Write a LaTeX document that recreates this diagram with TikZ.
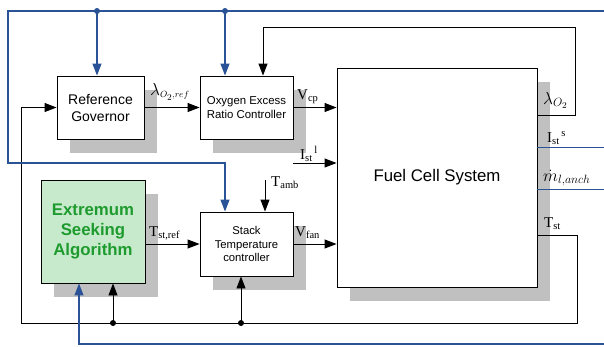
\documentclass[tikz,border=0pt]{standalone}
\usepackage{fontspec}
\setmainfont{Liberation Serif}
\newfontfamily\arialf{Liberation Sans}
\usetikzlibrary{arrows.meta,shadows}
\definecolor{wireblue}{RGB}{42,82,150}
\definecolor{shadowgray}{RGB}{192,192,192}
\definecolor{esafill}{RGB}{200,234,204}
\definecolor{esatext}{RGB}{30,155,46}
\begin{document}
\begin{tikzpicture}[x=1pt,y=-1pt,
  blk/.style={draw=black,line width=0.9pt,fill=white,inner sep=0pt,align=center,
    drop shadow={shadow xshift=13pt,shadow yshift=-13.5pt,fill=shadowgray,opacity=1}},
  wire/.style={draw=black,line width=0.9pt},
  bwire/.style={draw=wireblue,line width=1.1pt},
  tblue/.style={draw=wireblue,line width=0.7pt},
  arr/.style={-{Triangle[length=12pt,width=9pt]}},
  dot/.style={circle,fill,inner sep=0pt,minimum size=6pt},
  lbl/.style={anchor=base west,inner sep=0pt,font=\fontsize{15}{15}\selectfont}]
\useasboundingbox (0,0) rectangle (604,346);

% blocks
\node[blk,minimum width=87pt,minimum height=63pt,font=\arialf\fontsize{14}{17}\selectfont] (rg) at (100.5,107.5) {Reference\\Governor};
\node[blk,minimum width=93pt,minimum height=63pt,font=\arialf\fontsize{11.4}{13.4}\selectfont] (oxy) at (246.5,107.5) {Oxygen Excess\\Ratio Controller};
\node[blk,minimum width=93pt,minimum height=64pt,font=\arialf\fontsize{11.3}{13.3}\selectfont] (stc) at (246.5,244) {Stack\\Temperature\\controller};
\node[blk,fill=esafill,text=esatext,minimum width=104pt,minimum height=103pt,font=\arialf\bfseries\fontsize{16.8}{20}\selectfont] (esa) at (93,231.5) {Extremum\\Seeking\\Algorithm};
\node[blk,minimum width=200pt,minimum height=219pt] (fcs) at (437,177.5) {};
\node[font=\arialf\fontsize{16.8}{20}\selectfont,inner sep=0pt] (fcst) at (437,177) {Fuel Cell System};

% coordinates
\coordinate (lo2) at (537,115);
\coordinate (fb1) at (575,115);
\coordinate (fb2) at (575,27);
\coordinate (fb3) at (263,27);
\coordinate (ist) at (293,163);
\coordinate (tamb) at (265,180);
\coordinate (tst) at (537,235);
\coordinate (bb1) at (577,235);
\coordinate (bb2) at (577,323);
\coordinate (bb3) at (21,323);
\coordinate (bb4) at (21,107.5);
\coordinate (d1) at (113,323);
\coordinate (d2) at (241,323);
\coordinate (bt1) at (604,11);
\coordinate (bt2) at (8,11);
\coordinate (bt3) at (8,163);
\coordinate (bt4) at (225,163);
\coordinate (bd1) at (97,11);
\coordinate (bd2) at (225,11);
\coordinate (isr) at (604,147);
\coordinate (isl) at (537,147);
\coordinate (mdr) at (604,189);
\coordinate (mdl) at (537,189);
\coordinate (bo1) at (604,344);
\coordinate (bo2) at (79,344);

% black wires
\draw[wire,arr] (rg.east) -- (oxy.west);
\draw[wire,arr] (oxy.east) -- (oxy.east -| fcs.west);
\draw[wire,arr] (ist) -- (ist -| fcs.west);
\draw[wire,arr] (esa.east |- stc.west) -- (stc.west);
\draw[wire,arr] (stc.east) -- (stc.east -| fcs.west);
\draw[wire,arr] (tamb) -- (tamb |- stc.north);
\draw[wire,arr] (lo2) -- (fb1) -- (fb2) -- (fb3) -- (fb3 |- oxy.north);
\draw[wire,arr] (tst) -- (bb1) -- (bb2) -- (bb3) -- (bb4) -- (rg.west);
\draw[wire,arr] (d1) -- (d1 |- esa.south);
\draw[wire,arr] (d2) -- (d2 |- stc.south);
\node[dot] (dd1) at (d1) {};
\node[dot] (dd2) at (d2) {};

% blue wires
\draw[bwire,arr] (bt1) -- (bt2) -- (bt3) -- (bt4) -- (bt4 |- stc.north);
\draw[bwire,arr] (bd1) -- (bd1 |- rg.north);
\draw[bwire,arr] (bd2) -- (bd2 |- oxy.north);
\node[dot,wireblue] (bdd1) at (bd1) {};
\node[dot,wireblue] (bdd2) at (bd2) {};
\draw[tblue] (isl) -- (isr);
\draw[tblue] (mdl) -- (mdr);
\draw[bwire,arr] (bo1) -- (bo2) -- (bo2 |- esa.south);

% labels
\node[lbl,font=\fontsize{19}{19}\selectfont] (l1) at (150,95) {$\lambda_{\scriptscriptstyle O_2,ref}$};
\node[lbl] (l2) at (297,99) {V\textsubscript{cp}};
\node[lbl] (l3) at (300,159) {I\textsubscript{st}\textsuperscript{\,l}};
\node[lbl] (l4) at (271,186) {T\textsubscript{amb}};
\node[lbl] (l5) at (149,236) {T\textsubscript{st,ref}};
\node[lbl] (l6) at (295,236) {V\textsubscript{fan}};
\node[lbl,font=\fontsize{18}{18}\selectfont] (l7) at (543,104) {$\lambda_{O_2}$};
\node[lbl] (l8) at (547,142) {I\textsubscript{st}\textsuperscript{\,s}};
\node[lbl,font=\fontsize{17}{17}\selectfont] (l9) at (543,181) {$\dot m_{l,anch}$};
\node[lbl] (l10) at (544,227) {T\textsubscript{st}};
\end{tikzpicture}
\end{document}
